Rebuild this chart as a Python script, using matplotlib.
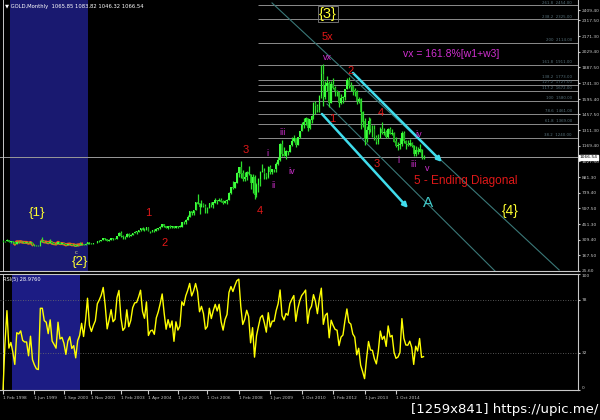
import numpy as np
import pandas as pd
import matplotlib
matplotlib.use("Agg")
import matplotlib.pyplot as plt

plt.rcParams["font.family"] = ["DejaVu Sans"]

# GOLD monthly bars, Feb 1998 .. Dec 2015 (open = previous close)
start_month = "1998-02"
first_open = 303.0
closes = [
    297, 301, 310, 293, 296, 288, 273, 293, 292, 294, 288,
    287, 287, 279, 286, 268, 261, 255, 254, 299, 299, 291, 290,
    283, 293, 278, 275, 272, 288, 276, 277, 273, 264, 270, 272,
    265, 266, 258, 264, 266, 271, 266, 273, 293, 279, 275, 279,
    282, 297, 302, 309, 326, 318, 304, 312, 323, 316, 318, 347,
    368, 347, 334, 337, 362, 346, 354, 375, 385, 386, 397, 416,
    402, 397, 424, 388, 394, 395, 391, 408, 416, 429, 452, 438,
    423, 435, 428, 435, 416, 437, 429, 433, 473, 470, 495, 517,
    569, 556, 582, 654, 643, 614, 633, 623, 599, 604, 646, 632,
    651, 669, 662, 678, 660, 650, 665, 673, 742, 789, 783, 834,
    923, 972, 916, 865, 886, 928, 914, 833, 884, 718, 815, 870,
    927, 942, 916, 883, 979, 927, 955, 955, 1001, 1040, 1182, 1097,
    1081, 1118, 1113, 1180, 1213, 1244, 1181, 1248, 1307, 1359, 1386, 1421,
    1332, 1411, 1439, 1556, 1536, 1500, 1628, 1826, 1620, 1722, 1746, 1566,
    1737, 1697, 1669, 1664, 1561, 1604, 1614, 1687, 1772, 1719, 1712, 1675,
    1663, 1578, 1596, 1476, 1393, 1234, 1312, 1396, 1326, 1323, 1253, 1202,
    1244, 1326, 1284, 1296, 1250, 1327, 1282, 1287, 1210, 1172, 1175, 1184,
    1283, 1213, 1183, 1182, 1191, 1172, 1095, 1134, 1115, 1142, 1065, 1066.54,
]
highs = [
    305, 303, 316, 312, 297, 297, 288, 301, 302, 301, 297,
    294, 292, 290, 291, 290, 271, 264, 259, 307, 339, 302, 294,
    292, 317, 296, 282, 278, 294, 290, 281, 278, 276, 272, 275,
    275, 269, 268, 266, 291, 273, 271, 279, 294, 294, 281, 281,
    283, 298, 305, 313, 327, 330, 320, 315, 326, 328, 324, 350,
    383, 389, 353, 341, 371, 371, 367, 376, 391, 392, 398, 417,
    427, 420, 431, 428, 395, 403, 407, 415, 418, 434, 456, 456,
    440, 439, 446, 438, 437, 441, 440, 447, 474, 478, 497, 538,
    572, 574, 586, 656, 730, 645, 672, 646, 634, 609, 651, 652,
    658, 690, 674, 692, 690, 671, 673, 681, 744, 794, 845, 836,
    928, 976, 1033, 946, 935, 944, 988, 916, 913, 904, 828, 880,
    937, 1006, 963, 919, 981, 990, 960, 962, 1025, 1070, 1195, 1227,
    1161, 1128, 1127, 1180, 1249, 1265, 1245, 1252, 1307, 1388, 1425, 1431,
    1425, 1411, 1448, 1575, 1577, 1553, 1632, 1912, 1920, 1765, 1804, 1765,
    1764, 1791, 1719, 1676, 1666, 1640, 1626, 1692, 1790, 1795, 1754, 1723,
    1694, 1677, 1616, 1605, 1487, 1424, 1347, 1433, 1422, 1361, 1362, 1267,
    1280, 1345, 1392, 1331, 1315, 1332, 1345, 1323, 1294, 1255, 1207, 1238,
    1307, 1307, 1220, 1224, 1232, 1205, 1174, 1170, 1157, 1191, 1142, 1083.82,
]
lows = [
    288, 289, 299, 290, 283, 285, 271, 273, 286, 289, 284,
    284, 282, 278, 277, 267, 253, 252, 251, 254, 290, 289, 278,
    279, 283, 276, 272, 270, 270, 275, 272, 268, 263, 262, 266,
    263, 255, 255, 256, 264, 263, 264, 264, 270, 275, 271, 273,
    277, 282, 289, 300, 307, 312, 301, 299, 311, 311, 314, 317,
    345, 340, 320, 322, 337, 339, 341, 354, 369, 366, 381, 393,
    399, 390, 397, 387, 371, 384, 385, 388, 398, 409, 426, 430,
    414, 413, 423, 423, 414, 414, 416, 429, 431, 459, 456, 488,
    516, 538, 533, 581, 634, 543, 611, 614, 560, 559, 603, 613,
    603, 646, 637, 662, 656, 642, 649, 642, 671, 728, 778, 780,
    834, 888, 875, 851, 849, 858, 902, 773, 736, 681, 705, 747,
    802, 927, 866, 866, 880, 910, 908, 932, 931, 992, 1033, 1075,
    1075, 1045, 1087, 1111, 1165, 1203, 1157, 1175, 1240, 1306, 1330, 1361,
    1308, 1325, 1381, 1419, 1463, 1478, 1478, 1604, 1535, 1600, 1667, 1522,
    1563, 1693, 1627, 1627, 1527, 1555, 1563, 1588, 1686, 1694, 1672, 1636,
    1626, 1554, 1565, 1321, 1339, 1180, 1208, 1275, 1293, 1251, 1227, 1187,
    1182, 1237, 1277, 1268, 1241, 1240, 1280, 1273, 1206, 1161, 1131, 1142,
    1167, 1197, 1142, 1170, 1170, 1162, 1077, 1080, 1099, 1112, 1052, 1046.32,
]

price_ticks = [2409.40, 2317.50, 2171.30, 2029.40, 1887.50, 1741.30, 1595.40,
               1457.50, 1311.30, 1169.40, 1027.50, 881.30, 739.40, 597.50,
               451.30, 309.40, 167.50, 25.60]
last_price = 1066.54

fib_ratios = [261.8, 238.2, 200.0, 161.8, 138.2, 127.2, 117.2, 100.0, 78.6, 61.8, 38.2]
fib_prices = [2454.0, 2325.0, 2114.0, 1911.0, 1773.0, 1727.0, 1672.0, 1580.0,
              1461.0, 1369.0, 1240.0]

date_labels = ["1 Feb 1998", "1 Jun 1999", "1 Sep 2000", "1 Nov 2001",
               "1 Feb 2003", "1 Apr 2004", "1 Jul 2005", "1 Oct 2006",
               "1 Feb 2008", "1 Jun 2009", "1 Oct 2010", "1 Feb 2012",
               "1 Jun 2013", "1 Oct 2014"]

rsi_period = 5
rsi_last = "28.9760"
rsi_levels = [78, 32]


def calc_rsi(values, period):
    diff = np.diff(values)
    gains = np.clip(diff, 0, None)
    losses = np.clip(-diff, 0, None)
    out = np.empty(len(diff))
    ag = al = 0.0
    for i in range(len(diff)):
        if i < period:
            ag = gains[:i + 1].mean()
            al = losses[:i + 1].mean()
        else:
            ag = (ag * (period - 1) + gains[i]) / period
            al = (al * (period - 1) + losses[i]) / period
        out[i] = 100.0 if al == 0 else 100 - 100 / (1 + ag / al)
    return out


closes_a = np.array(closes, dtype=float)
highs_a = np.array(highs, dtype=float)
lows_a = np.array(lows, dtype=float)
opens_a = np.r_[first_open, closes_a[:-1]]
months = pd.date_range(start_month, periods=len(closes), freq="MS")
x = np.arange(len(closes))
rsi = calc_rsi(np.r_[first_open, closes_a], rsi_period)

BG = "black"
FG = "#c8c8c8"
RED = "#e01818"
MAG = "#d030d0"
YEL = "#ffff30"
CYAN = "#40dcec"
TEAL = "#3a7878"
XMAX = 292.6
AX_FONT = 3.2

fig = plt.figure(figsize=(6, 4.2), dpi=100, facecolor=BG)
ax = fig.add_axes([0, 0.3548, 0.9633, 0.6452], facecolor=BG)
ax2 = fig.add_axes([0, 0.0714, 0.9633, 0.2762], facecolor=BG)

# ---- price window ----
ax.axvspan(3.6, 43.3, color="#191970", zorder=0, lw=0)
ax.axvline(0, color=FG, lw=0.7)

fib_start = months.get_loc(pd.Timestamp("2008-12-01"))
ax.hlines(fib_prices, fib_start, XMAX, color="#8c8c8c", lw=0.7, zorder=1)
for r, p in zip(fib_ratios, fib_prices):
    ax.text(289.5, p + 6, f"{r:g}  {p:.2f}", fontsize=2.8, color="#56707a",
            ha="right", va="bottom")
ax.axhline(last_price, color="#9a9a9a", lw=0.7, zorder=1)

# orange segments in the blue zone
for a, b in [(6, 15), (20, 40)]:
    ax.plot(x[a:b + 1], closes_a[a:b + 1], color="#e8641c", lw=2.2, zorder=2)

up = closes_a >= opens_a
ax.vlines(x, lows_a, highs_a, color="#2ee02e", lw=0.9, zorder=3)
ax.bar(x, np.abs(closes_a - opens_a) + 2, bottom=np.minimum(opens_a, closes_a) - 1,
       width=0.8, color=np.where(up, "#3cff3c", "#1fae1f"), zorder=4)

# channel lines
ax.plot([136.9, 283.0], [2476, 35], color=TEAL, lw=0.8, zorder=2)
ax.plot([164.9, 251.4], [1552, 7], color=TEAL, lw=0.8, zorder=2)
for (x0, y0), (x1, y1) in [((162.3, 1461), (206.1, 601)),
                           ((178.1, 1836), (223.4, 1022))]:
    ax.annotate("", xy=(x1, y1), xytext=(x0, y0),
                arrowprops=dict(arrowstyle="-|>", color=CYAN, lw=1.8,
                                mutation_scale=7, shrinkA=0, shrinkB=0),
                zorder=5)

labels = [
    ("{3}", 165.4, 2375, YEL, 10.5),
    ("5x", 164.9, 2165, RED, 8),
    ("vx", 164.9, 1973, MAG, 6.5),
    ("2", 177.1, 1854, RED, 8),
    ("1", 167.4, 1415, RED, 8),
    ("4", 192.4, 1470, RED, 8),
    ("iii", 142.5, 1296, MAG, 6.5),
    ("3", 123.7, 1132, RED, 8),
    ("i", 134.4, 1104, MAG, 6.5),
    ("iv", 147.1, 931, MAG, 6.5),
    ("ii", 137.9, 803, MAG, 6.5),
    ("4", 130.8, 574, RED, 8),
    ("3", 190.3, 1004, RED, 8),
    ("i", 201.0, 1040, MAG, 6.5),
    ("iv", 211.7, 1269, MAG, 6.5),
    ("iii", 208.7, 995, MAG, 6.5),
    ("v", 215.8, 958, MAG, 6.5),
    ("A", 216.3, 647, "#40c8c8", 11),
    ("{4}", 258.0, 574, YEL, 10),
    ("1", 73.8, 556, RED, 8),
    ("2", 82.4, 281, RED, 8),
    ("{1}", 17.3, 556, YEL, 9.5),
    ("{2}", 39.2, 108, YEL, 9.5),
    ("c", 37.2, 199, "#d8d890", 4),
]
for txt, lx, ly, col, fs in labels:
    t = ax.text(lx, ly, txt, color=col, fontsize=fs, ha="center", va="center",
                family=["Liberation Sans", "DejaVu Sans"], zorder=6)
    if txt == "{3}":
        t.set_bbox(dict(facecolor="none", edgecolor="#808080", lw=0.6, pad=0.8))

ax.text(209.2, 848, "5 - Ending Diagonal", color=RED, fontsize=8.5, ha="left",
        va="center", family=["Liberation Sans", "DejaVu Sans"], zorder=6)
ax.text(203.6, 2009, "vx = 161.8%[w1+w3]", color=MAG, fontsize=7.5, ha="left",
        va="center", family=["Liberation Sans", "DejaVu Sans"], zorder=6)

ax.text(0.008, 0.985, "\u25bc GOLD,Monthly  1065.85 1083.82 1046.32 1066.54",
        transform=ax.transAxes, color="white", fontsize=3.8, ha="left", va="top")

ax.set_xlim(-1.53, XMAX)
ax.set_ylim(25.6, 2503)
ax.yaxis.tick_right()
ax.set_yticks(price_ticks)
ax.set_yticklabels([f"{v:.2f}" for v in price_ticks], fontsize=AX_FONT, color=FG)
ax.tick_params(axis="y", length=1.5, pad=1, color=FG)
ax.tick_params(axis="x", bottom=False, labelbottom=False)
ax.text(1.003, last_price, f"{last_price:.2f}", transform=ax.get_yaxis_transform(),
        fontsize=AX_FONT, color="black", ha="left", va="center",
        bbox=dict(facecolor="white", edgecolor="white", pad=0.3))
for side in ["top", "left"]:
    ax.spines[side].set_visible(False)
for side in ["right", "bottom"]:
    ax.spines[side].set_color(FG)
    ax.spines[side].set_linewidth(0.8)

# ---- RSI window ----
ax2.axvspan(4.6, 39.2, color="#1c1c84", zorder=0, lw=0)
ax2.axvline(0, color=FG, lw=0.7)
for lv in rsi_levels:
    ax2.axhline(lv, color="#707070", lw=0.6, ls=(0, (1, 2)))
ax2.plot(x, rsi, color="#ffff00", lw=1.0, zorder=3)
ax2.text(0.006, 0.97, f"RSI({rsi_period}) {rsi_last}", transform=ax2.transAxes,
         color="white", fontsize=3.6, ha="left", va="top")
ax2.set_xlim(-1.53, XMAX)
ax2.set_ylim(0, 100)
ax2.yaxis.tick_right()
rsi_ticks = [100] + rsi_levels + [0]
ax2.set_yticks(rsi_ticks)
ax2.set_yticklabels([str(v) for v in rsi_ticks], fontsize=AX_FONT, color=FG)
ax2.get_yticklabels()[0].set_va("top")
ax2.get_yticklabels()[-1].set_va("bottom")
ax2.tick_params(axis="y", length=1.5, pad=1, color=FG)

tick_pos = [months.get_loc(pd.Timestamp(d)) for d in date_labels]
ax2.set_xticks(tick_pos)
ax2.set_xticklabels(date_labels, fontsize=3.1, color=FG)
for t in ax2.get_xticklabels():
    t.set_ha("left")
ax2.tick_params(axis="x", length=3, pad=1, color=FG, direction="out")
ax2.spines["left"].set_visible(False)
for side in ["top", "right", "bottom"]:
    ax2.spines[side].set_color(FG)
    ax2.spines[side].set_linewidth(0.8)

fig.text(0.997, 0.026, "[1259x841] https://upic.me/", color="white", fontsize=9.5,
         ha="right", va="center")

fig.savefig("out.png", dpi=100, facecolor=BG)
